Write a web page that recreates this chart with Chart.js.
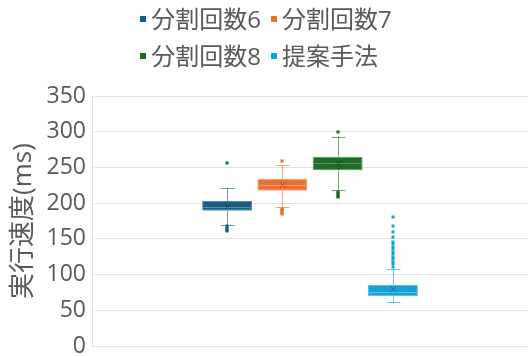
<!DOCTYPE html>
<html lang="ja">
<head>
<meta charset="utf-8">
<script src="https://cdn.jsdelivr.net/npm/chart.js@4.4.1/dist/chart.umd.min.js"></script>
<style>
  html, body { margin: 0; padding: 0; background: #ffffff; }
  #wrap { position: relative; width: 532px; height: 356px; }
  #legend {
    position: absolute; top: 0; left: 0; width: 532px;
    display: grid; grid-template-columns: auto auto; justify-content: center;
    column-gap: 10px;
    font-family: 'Open Sans', 'Noto Sans CJK JP', sans-serif;
    font-size: 24px; line-height: 37px; color: #595959;
  }
  .item { display: flex; align-items: center; white-space: nowrap; height: 37px; }
  .swatch { width: 6px; height: 6px; margin-right: 5px; }
</style>
</head>
<body>
<div id="wrap">
  <canvas id="chart" width="532" height="356"></canvas>
  <div id="legend"></div>
</div>
<script>
// series names
const categories = ['分割回数6', '分割回数7', '分割回数8', '提案手法'];

// box statistics per series (ms)
const whiskerMin = [169.5, 194, 218, 61.5];
const q1 = [189.5, 217.5, 246, 69.5];
const median = [195, 225.5, 256, 76];
const q3 = [203, 234, 265, 85.5];
const whiskerMax = [221, 253.5, 293, 108.5];
const mean = [195.5, 225.5, 255.5, 79.5];

// points outside the whiskers
const outliers = [
  [256, 168, 166, 164, 162.5, 161],
  [259, 192.5, 190.5, 188.5, 186.5, 184.5],
  [299.5, 216, 214, 212, 210, 208],
  [180, 167.5, 160, 153, 146, 142.5, 139, 135.5, 132, 128.5,
   125, 121.5, 118, 114.5, 111]
];

const yTicks = [0, 50, 100, 150, 200, 250, 300, 350];

const fillColors = ['#175e82', '#eb7132', '#1c6b26', '#13a1d8'];
const edgeColors = ['#5b8ca6', '#f19a6b', '#5a9460', '#5cbde3'];
const whiskerColors = ['rgba(23,94,130,0.6)', 'rgba(235,113,50,0.6)', 'rgba(28,107,38,0.6)', 'rgba(19,161,216,0.6)'];

const FONT = "'Open Sans', 'Noto Sans CJK JP', sans-serif";
const TEXT = '#595959';

// legend in two columns
const legendEl = document.getElementById('legend');
categories.forEach((name, i) => {
  const item = document.createElement('div');
  item.className = 'item';
  item.innerHTML = '<span class="swatch" style="background:' + fillColors[i] + '"></span>' + name;
  legendEl.appendChild(item);
});

// whiskers, median, mean and outliers on top of the floating bars
const boxPlotPlugin = {
  id: 'boxPlot',
  afterDatasetsDraw(chart) {
    const ctx = chart.ctx;
    const y = chart.scales.y;
    chart.data.datasets.forEach((ds, i) => {
      const bar = chart.getDatasetMeta(i).data[0];
      if (!bar) return;
      const x = Math.round(bar.x) + 0.5;
      const half = bar.width / 2;
      const cap = 7;
      ctx.save();
      ctx.lineWidth = 1;

      // whiskers
      ctx.strokeStyle = whiskerColors[i];
      ctx.beginPath();
      ctx.moveTo(x, y.getPixelForValue(q3[i]));
      ctx.lineTo(x, y.getPixelForValue(whiskerMax[i]));
      ctx.moveTo(x, y.getPixelForValue(q1[i]));
      ctx.lineTo(x, y.getPixelForValue(whiskerMin[i]));
      const yHi = Math.round(y.getPixelForValue(whiskerMax[i])) + 0.5;
      const yLo = Math.round(y.getPixelForValue(whiskerMin[i])) + 0.5;
      ctx.moveTo(x - cap, yHi);
      ctx.lineTo(x + cap, yHi);
      ctx.moveTo(x - cap, yLo);
      ctx.lineTo(x + cap, yLo);
      ctx.stroke();

      // median
      const yMed = Math.round(y.getPixelForValue(median[i])) + 0.5;
      ctx.strokeStyle = edgeColors[i];
      ctx.beginPath();
      ctx.moveTo(bar.x - half + 1, yMed);
      ctx.lineTo(bar.x + half - 1, yMed);
      ctx.stroke();

      // mean marker
      const yMean = y.getPixelForValue(mean[i]);
      ctx.strokeStyle = 'rgba(0,0,0,0.25)';
      ctx.beginPath();
      ctx.moveTo(x - 3, yMean - 3);
      ctx.lineTo(x + 3, yMean + 3);
      ctx.moveTo(x + 3, yMean - 3);
      ctx.lineTo(x - 3, yMean + 3);
      ctx.stroke();

      // outliers
      ctx.fillStyle = fillColors[i];
      outliers[i].forEach((v) => {
        const py = Math.round(y.getPixelForValue(v));
        ctx.fillRect(x - 2, py - 1.5, 3, 3);
      });
      ctx.restore();
    });
  }
};

const chart = new Chart(document.getElementById('chart'), {
  type: 'bar',
  data: {
    labels: [''],
    datasets: categories.map((name, i) => ({
      label: name,
      data: [[q1[i], q3[i]]],
      backgroundColor: fillColors[i],
      borderColor: edgeColors[i],
      borderWidth: 1,
      borderSkipped: false,
      categoryPercentage: 0.507,
      barPercentage: 0.904
    }))
  },
  options: {
    responsive: false,
    animation: false,
    layout: { padding: { top: 96, right: 4, bottom: 10, left: 0 } },
    plugins: {
      legend: { display: false },
      tooltip: { enabled: false }
    },
    scales: {
      x: { display: false },
      y: {
        min: 0,
        max: 350,
        afterBuildTicks: (scale) => { scale.ticks = yTicks.map((v) => ({ value: v })); },
        afterFit: (scale) => {
          scale.width = 92;
          scale.paddingTop = 0;
          scale.paddingBottom = 0;
        },
        grid: { color: '#e3e3e3', drawTicks: false },
        border: { display: true, color: '#e3e3e3' },
        ticks: {
          padding: 6,
          color: TEXT,
          font: { family: FONT, size: 23 }
        },
        title: {
          display: true,
          text: '実行速度(ms)',
          color: TEXT,
          padding: { top: 8, bottom: 0 },
          font: { family: FONT, size: 26 }
        }
      }
    }
  },
  plugins: [boxPlotPlugin]
});
</script>
</body>
</html>
